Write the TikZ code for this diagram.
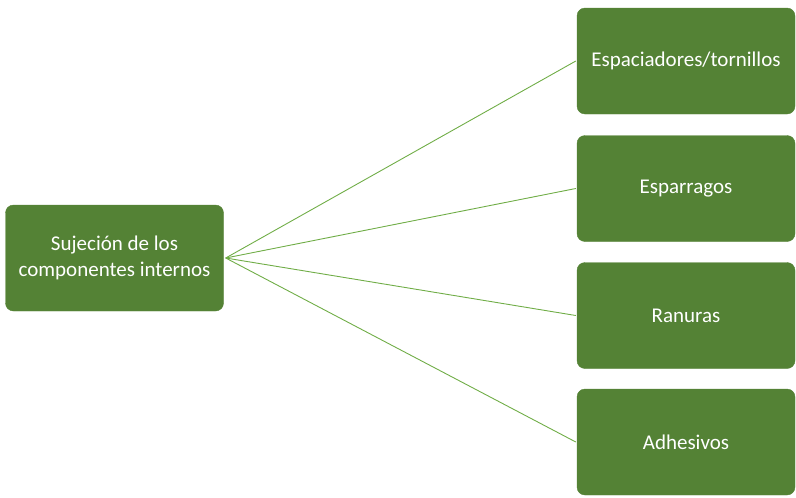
\documentclass[tikz,border=0pt]{standalone}
\usepackage{fontspec}
\setmainfont{Carlito}
\definecolor{boxgreen}{HTML}{548235}
\definecolor{linkgreen}{HTML}{70AD47}
\begin{document}
\begin{tikzpicture}[x=1pt,y=-1pt,
  itembox/.style={draw=boxgreen, fill=boxgreen, rounded corners=8pt,
    minimum width=218pt, minimum height=106pt, text=white,
    font=\fontsize{21}{25.5}\selectfont, align=center, inner sep=0pt},
  link/.style={draw=linkgreen, line width=0.9pt}]
\useasboundingbox (0,0) rectangle (796,498);
\node[itembox] (root) at (114.5,258) {Sujeción de los\\componentes internos};
\node[itembox] (a) at (686,61) {Espaciadores/tornillos};
\node[itembox] (b) at (686,188.5) {Esparragos};
\node[itembox] (c) at (686,315.5) {Ranuras};
\node[itembox] (d) at (686,442) {Adhesivos};
\foreach \t in {a,b,c,d}
  \draw[link] ([xshift=2pt]root.east) -- ([xshift=-1pt]\t.west);
\end{tikzpicture}
\end{document}
